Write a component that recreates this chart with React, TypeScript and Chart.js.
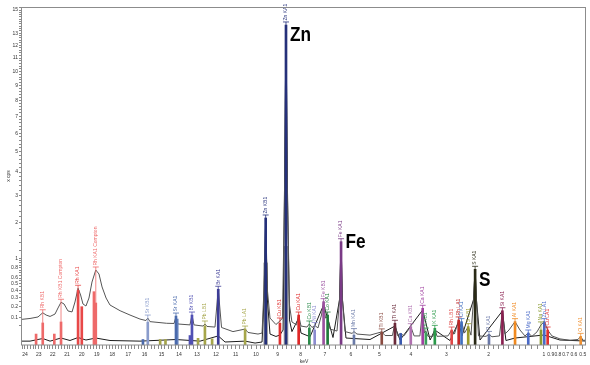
import React, { useEffect, useRef } from 'react';
import { Chart, registerables } from 'chart.js';

Chart.register(...registerables);

// ---------- data (energy in keV, intensity in the axis unit) ----------
const upperEnergy = [24.22, 23.63, 23.05, 22.71, 22.47, 22.19, 21.84, 21.63, 21.42, 21.21, 20.94, 20.66, 20.46, 20.25, 20.08, 19.92, 19.72, 19.52, 19.32, 19.07, 18.86, 18.66, 18.40, 18.15, 17.51, 16.89, 16.28, 15.92, 15.81, 15.68, 14.70, 14.28, 14.17, 14.06, 13.39, 13.28, 13.17, 12.68, 12.58, 12.47, 12.05, 11.88, 11.71, 11.13, 10.53, 10.39, 9.91, 9.72, 9.63, 9.55, 9.47, 9.35, 9.08, 8.90, 8.785, 8.70, 8.63, 8.56, 8.476, 8.37, 8.17, 8.08, 7.98, 7.73, 7.63, 7.52, 7.41, 7.275, 7.134, 7.05, 6.975, 6.89, 6.797, 6.525, 6.43, 6.37, 6.316, 6.22, 5.96, 5.89, 5.78, 5.32, 4.92, 4.81, 4.57, 4.49, 4.41, 4.31, 4.21, 4.00, 3.90, 3.73, 3.65, 3.60, 3.56, 3.50, 3.36, 3.31, 3.25, 2.96, 2.865, 2.795, 2.69, 2.653, 2.62, 2.549, 2.46, 2.395, 2.338, 2.30, 2.269, 2.224, 2.059, 1.995, 1.932, 1.778, 1.72, 1.670, 1.593, 1.48, 1.391, 1.304, 1.248, 1.187, 1.106, 1.044, 0.994, 0.944, 0.882, 0.773, 0.646, 0.553, 0.523, 0.499, 0.467];
const upperCounts = [0.088, 0.094, 0.105, 0.139, 0.120, 0.109, 0.128, 0.183, 0.244, 0.225, 0.155, 0.146, 0.247, 0.430, 0.334, 0.225, 0.203, 0.295, 0.530, 0.752, 0.674, 0.450, 0.295, 0.214, 0.157, 0.120, 0.090, 0.080, 0.097, 0.073, 0.063, 0.062, 0.107, 0.059, 0.054, 0.120, 0.054, 0.048, 0.059, 0.046, 0.043, 0.415, 0.041, 0.024, 0.034, 0.021, 0.016, 0.019, 0.404, 2.156, 0.404, 0.097, 0.056, 0.077, 0.097, 2.81, 13.69, 2.81, 0.214, 0.071, 0.054, 0.120, 0.048, 0.043, 0.059, 0.041, 0.051, 0.039, 0.120, 0.251, 0.097, 0.107, 0.034, 0.026, 0.271, 1.426, 0.271, 0.024, 0.018, 0.024, 0.016, 0.013, 0.023, 0.012, 0.012, 0.063, 0.012, 0.018, 0.011, 0.045, 0.011, 0.011, 0.180, 0.019, 0.026, 0.010, 0.010, 0.037, 0.010, 0.011, 0.030, 0.016, 0.084, 0.043, 0.073, 0.019, 0.045, 0.013, 0.271, 0.766, 0.271, 0.011, 0.010, 0.015, 0.009, 0.011, 0.157, 0.016, 0.030, 0.073, 0.030, 0.011, 0.019, 0.010, 0.023, 0.054, 0.073, 0.030, 0.011, 0.005, 0.003, 0.004, 0.010, 0.003, 0.003];

const lowerEnergy = [24.22, 23.63, 22.71, 22.19, 21.42, 20.80, 20.25, 19.72, 19.07, 18.15, 16.28, 14.17, 12.84, 11.88, 11.53, 10.53, 10.05, 9.72, 9.63, 9.55, 9.47, 9.35, 9.08, 8.90, 8.76, 8.70, 8.63, 8.56, 8.476, 8.37, 8.08, 7.98, 7.60, 7.05, 6.89, 6.68, 6.43, 6.37, 6.316, 6.185, 5.32, 4.49, 4.33, 3.65, 3.44, 3.31, 2.909, 2.69, 2.61, 2.338, 2.30, 2.269, 2.19, 1.72, 1.651, 1.48, 0.998, 0.773, 0.467];
const lowerCounts = [0.002, 0.002, 0.0056, 0.002, 0.0065, 0.0027, 0.0075, 0.0033, 0.0065, 0.0027, 0.002, 0.004, 0.002, 0.011, 0.0012, 0.002, 0.0005, 0.0012, 0.271, 2.09, 0.271, 0.016, 0.0097, 0.0134, 0.030, 2.81, 13.51, 2.81, 0.084, 0.024, 0.097, 0.019, 0.0092, 0.214, 0.097, 0.0075, 0.271, 1.39, 0.271, 0.0065, 0.004, 0.048, 0.0033, 0.164, 0.0033, 0.030, 0.0027, 0.071, 0.011, 0.271, 0.766, 0.271, 0.0033, 0.155, 0.0027, 0.0065, 0.0134, 0.0033, 0.0021];

// identified element lines
const lineNames = ['Rh KB1', 'Rh KB1 Compton', 'Rh KA1', 'Rh KA1 Compton', 'Sr KB1', 'Sr KA1', 'Br KB1', 'Pb LB1', 'Br KA1', 'Pb LA1', 'Zn KB1', 'Cu KB1', 'Zn KA1', 'Cu KA1', 'Co KB1', 'Ni KA1', 'Fe KB1', 'Co KA1', 'Fe KA1', 'Mn KA1', 'Ti KB1', 'Ti KA1', 'Ca KB1', 'Ca KA1', 'K KB1', 'K KA1', 'Rh LB1', 'Rh LA1', 'Cl KA1', 'S KB1', 'S KA1', 'P KA1', 'Si KA1', 'Al KA1', 'Mg KA1', 'Na KA1', 'Zn LA1', 'Cu LA1', 'O KA1'];
const lineEnergy = [22.71, 21.42, 20.25, 19.07, 15.81, 14.17, 13.28, 12.58, 11.88, 10.53, 9.55, 8.90, 8.63, 8.08, 7.63, 7.41, 7.05, 6.89, 6.37, 5.89, 4.92, 4.49, 4.00, 3.65, 3.56, 3.31, 2.865, 2.69, 2.62, 2.46, 2.30, 1.995, 1.72, 1.48, 1.248, 1.044, 0.994, 0.944, 0.523];
const lineCounts = [0.065, 0.071, 0.40, 0.236, 0.07, 0.112, 0.12, 0.048, 0.415, 0.034, 2.156, 0.063, 13.69, 0.12, 0.0386, 0.03, 0.251, 0.12, 1.426, 0.013, 0.0226, 0.063, 0.0448, 0.18, 0.02, 0.037, 0.03, 0.0835, 0.0726, 0.0448, 0.766, 0.0147, 0.157, 0.0726, 0.0192, 0.03, 0.0726, 0.03, 0.0097];
const lineColors = ['#ee6a6a', '#ee6a6a', '#e84848', '#ee6a6a', '#8a9ccc', '#4a6aac', '#5050b4', '#a6a64a', '#3c3c96', '#a6a64a', '#25307a', '#e03030', '#25307a', '#e02828', '#2a8a4a', '#8c8cd0', '#9a50a0', '#1f7a3a', '#7a3a86', '#6a7aa8', '#8a4a40', '#6a2a3a', '#b070b0', '#a040a0', '#3aa05a', '#2a9a4a', '#e04848', '#c02828', '#4070c0', '#9a9a2a', '#2a2a16', '#6a78a8', '#8a2050', '#f08a20', '#4a6ac8', '#8a9a30', '#4a6ac8', '#e03030', '#f09030'];

// unlabelled minor lines
const extraEnergy = [23.19, 21.89, 20.0, 19.19, 16.1, 15.08, 14.77, 14.10, 13.39, 12.95, 12.2, 4.31];
const extraCounts = [0.016, 0.016, 0.196, 0.38, 0.004, 0.004, 0.004, 0.09, 0.012, 0.006, 0.005, 0.0177];
const extraColors = ['#ee6a6a', '#ee6a6a', '#e84848', '#ee6a6a', '#4a6aac', '#a6a64a', '#a6a64a', '#6a86c0', '#5050b4', '#a6a64a', '#a6a64a', '#3a5ab0'];

// broad shoulders under the Zn peaks
const shoulderEnergy = [9.55, 8.63];
const shoulderCounts = [0.9, 1.3];

// axes
const xMajorTicks = [24, 23, 22, 21, 20, 19, 18, 17, 16, 15, 14, 13, 12, 11, 10, 9, 8, 7, 6, 5, 4, 3, 2, 1, 0.9, 0.8, 0.7, 0.6, 0.5];
const yLabelValues = [0.1, 0.2, 0.3, 0.4, 0.5, 0.6, 0.8, 1, 2, 3, 4, 5, 6, 7, 8, 9, 10, 11, 12, 13, 15];
const xRange = [0.467, 24.22];
const yMax = 15.27;

const elementTags = ['Zn', 'Fe', 'S'];
const elementTagLines = ['Zn KA1', 'Fe KA1', 'S KA1'];

// ---------- helpers ----------
const FONT = '"Liberation Sans", Arial, sans-serif';
const sq = Math.sqrt;

const xTickEnergies: number[] = [];
for (let k = 5; k <= 242; k++) if (k < 30 || k % 2 === 0) xTickEnergies.push(k / 10);
const yTickValues: number[] = [];
for (let k = 1; k <= 20; k++) yTickValues.push(Math.round(k * 5) / 100);
for (let k = 6; k <= 76; k++) yTickValues.push(Math.round(k * 2) / 10);

const near = (a: number, b: number, tol = 1e-6) => Math.abs(a - b) < tol;

function tracePeak(e: number) {
  let m = 0;
  upperEnergy.forEach((v, i) => { if (Math.abs(v - e) < 0.012) m = Math.max(m, upperCounts[i]); });
  lowerEnergy.forEach((v, i) => { if (Math.abs(v - e) < 0.012) m = Math.max(m, lowerCounts[i]); });
  return m;
}

const framePlugin = {
  id: 'frame',
  afterDraw(chart: any) {
    const { ctx, chartArea: a } = chart;
    ctx.save();
    ctx.strokeStyle = '#8c8c8c';
    ctx.lineWidth = 1;
    ctx.strokeRect(Math.round(a.left) - 0.5, Math.round(a.top) + 0.5, Math.round(a.right - a.left), Math.round(a.bottom - a.top) - 0.5);
    ctx.restore();
  },
};

const peakLabelPlugin = {
  id: 'peakLabels',
  afterDatasetsDraw(chart: any) {
    const { ctx } = chart;
    const xs = chart.scales.x;
    const ys = chart.scales.y;
    ctx.save();
    ctx.font = `5px ${FONT}`;
    ctx.lineWidth = 0.8;
    lineNames.forEach((name, i) => {
      const e = lineEnergy[i];
      const px = xs.getPixelForValue(sq(e));
      const barTop = ys.getPixelForValue(sq(lineCounts[i]));
      const peak = Math.max(lineCounts[i], tracePeak(e));
      const py = ys.getPixelForValue(sq(peak)) - 3;
      ctx.strokeStyle = lineColors[i];
      ctx.fillStyle = lineColors[i];
      ctx.beginPath();
      ctx.moveTo(px, barTop);
      ctx.lineTo(px, py);
      ctx.moveTo(px - 3, py);
      ctx.lineTo(px + 3, py);
      ctx.stroke();
      ctx.save();
      ctx.translate(px, py - 1.5);
      ctx.rotate(-Math.PI / 2);
      ctx.textAlign = 'left';
      ctx.textBaseline = 'middle';
      ctx.fillText(name, 0, 0);
      ctx.restore();
    });
    // big element tags
    const shifts = [[4, 16.5], [4.5, 6.5], [4, 17]];
    ctx.font = `bold 21px ${FONT}`;
    ctx.fillStyle = '#000';
    ctx.textAlign = 'left';
    ctx.textBaseline = 'alphabetic';
    elementTags.forEach((tag, k) => {
      const idx = lineNames.indexOf(elementTagLines[k]);
      const e = lineEnergy[idx];
      const px = xs.getPixelForValue(sq(e));
      const py = ys.getPixelForValue(sq(Math.max(lineCounts[idx], tracePeak(e))));
      ctx.save();
      ctx.translate(px + shifts[k][0], py + shifts[k][1]);
      ctx.scale(0.82, 1);
      ctx.fillText(tag, 0, 0);
      ctx.restore();
    });
    ctx.restore();
  },
};

export default function App() {
  const ref = useRef<HTMLCanvasElement | null>(null);

  useEffect(() => {
    document.body.style.margin = '0';
    const canvas = ref.current;
    if (!canvas) return;

    const toPts = (es: number[], cs: number[]) => es.map((e, i) => ({ x: sq(e), y: sq(cs[i]) }));

    const chart = new Chart(canvas, {
      type: 'line',
      data: {
        datasets: [
          {
            type: 'bar',
            label: 'lines',
            data: toPts(lineEnergy, lineCounts),
            backgroundColor: lineColors,
            barThickness: 2,
            grouped: false,
            order: 0,
          } as any,
          {
            type: 'bar',
            label: 'minor lines',
            data: toPts(extraEnergy, extraCounts),
            backgroundColor: extraColors,
            barThickness: 2,
            grouped: false,
            order: 0,
          } as any,
          {
            type: 'line',
            label: 'spectrum 1',
            data: toPts(upperEnergy, upperCounts),
            borderColor: '#555555',
            borderWidth: 1,
            pointRadius: 0,
            tension: 0,
            fill: false,
            order: 1,
          },
          {
            type: 'line',
            label: 'spectrum 2',
            data: toPts(lowerEnergy, lowerCounts),
            borderColor: '#1c1c1c',
            borderWidth: 1,
            pointRadius: 0,
            tension: 0,
            fill: false,
            order: 2,
          },
          {
            type: 'bar',
            label: 'shoulders',
            data: toPts(shoulderEnergy, shoulderCounts),
            backgroundColor: '#a4a4a4',
            barThickness: 4,
            grouped: false,
            order: 3,
          } as any,
        ],
      },
      options: {
        responsive: false,
        animation: false,
        devicePixelRatio: 1,
        layout: { padding: { top: 7, right: 4, left: 0, bottom: 0 } },
        plugins: { legend: { display: false }, tooltip: { enabled: false } },
        scales: {
          x: {
            type: 'linear',
            reverse: true,
            offset: false,
            min: sq(xRange[0]),
            max: sq(xRange[1]),
            afterBuildTicks: (s: any) => {
              s.ticks = xTickEnergies.map((e) => ({ value: sq(e) }));
            },
            afterFit: (s: any) => {
              s.height = 20;
            },
            ticks: {
              autoSkip: false,
              maxRotation: 0,
              minRotation: 0,
              padding: 3,
              color: '#333',
              font: { size: 5, family: FONT },
              callback: (_v: any, i: number) => {
                const e = xTickEnergies[i];
                return xMajorTicks.some((m) => near(m, e)) ? String(e) : '';
              },
            },
            grid: { drawOnChartArea: false, drawTicks: true, tickLength: 4, color: '#8a8a8a', offset: false },
            border: { display: false },
            title: { display: true, text: 'keV', color: '#333', font: { size: 5, family: FONT }, padding: 0 },
          },
          y: {
            type: 'linear',
            min: 0,
            max: sq(yMax),
            afterBuildTicks: (s: any) => {
              s.ticks = yTickValues.map((v) => ({ value: sq(v) }));
            },
            afterFit: (s: any) => {
              s.width = 22;
            },
            ticks: {
              autoSkip: false,
              padding: 1,
              color: '#333',
              font: { size: 5, family: FONT },
              callback: (_v: any, i: number) => {
                const v = yTickValues[i];
                return yLabelValues.some((m) => near(m, v)) ? String(v) : '';
              },
            },
            grid: { drawOnChartArea: false, drawTicks: true, tickLength: 3, color: '#8a8a8a' },
            border: { display: false },
            title: { display: true, text: 'x cps', color: '#333', font: { size: 5, family: FONT }, padding: { top: 6, bottom: 0 } },
          },
        },
      } as any,
      plugins: [framePlugin, peakLabelPlugin],
    });

    return () => chart.destroy();
  }, []);

  return (
    <div style={{ width: 590, height: 365 }}>
      <canvas ref={ref} width={590} height={365} style={{ display: 'block' }} />
    </div>
  );
}
